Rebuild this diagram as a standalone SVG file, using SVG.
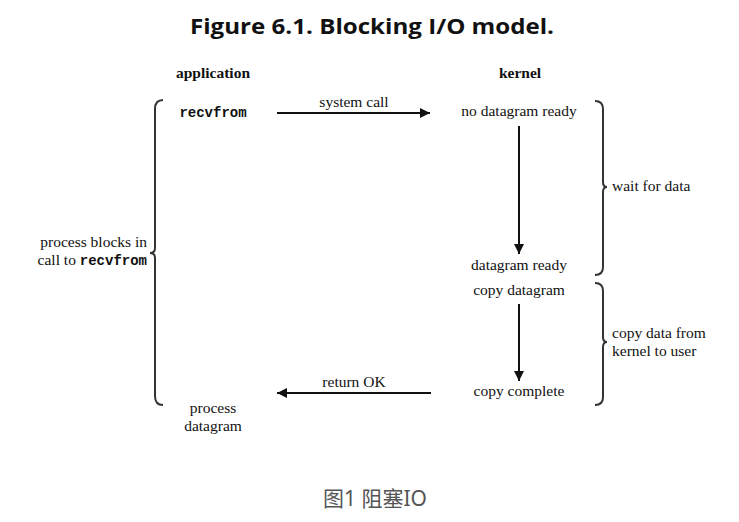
<svg xmlns="http://www.w3.org/2000/svg" width="739" height="522" viewBox="0 0 739 522">
<style>
.t{font-family:"Liberation Serif","DejaVu Serif",serif;font-size:15.5px;fill:#111;}
.b{font-weight:bold;}
.m{font-family:"Liberation Mono","DejaVu Sans Mono",monospace;font-size:14px;font-weight:bold;fill:#111;}
.c{text-anchor:middle;}
.e{text-anchor:end;}
.ln{stroke:#111;stroke-width:2;fill:none;}
.br{stroke:#333;stroke-width:2;fill:none;}
</style>
<defs>
<marker id="ah" viewBox="0 0 10 10" refX="10" refY="5" markerWidth="6" markerHeight="5" markerUnits="strokeWidth" orient="auto">
<path d="M0,0 L10,5 L0,10 Z" fill="#111"/>
</marker>
</defs>
<rect width="739" height="522" fill="#fff"/>
<text x="372" y="34" class="c" textLength="364" lengthAdjust="spacingAndGlyphs" style="font-family:'Open Sans','Noto Sans',sans-serif;font-weight:bold;font-size:22px;fill:#111">Figure 6.1. Blocking I/O model.</text>
<g id="hdr-app"><text x="213" y="78" class="t b c">application</text></g>
<g id="hdr-kernel"><text x="520" y="78" class="t b c">kernel</text></g>
<g id="recvfrom"><text x="213" y="117" class="m c">recvfrom</text></g>
<g id="no-datagram"><text x="519" y="116" class="t c">no datagram ready</text></g>
<g id="datagram-ready"><text x="519" y="270" class="t c">datagram ready</text></g>
<g id="copy-datagram"><text x="519" y="295" class="t c">copy datagram</text></g>
<g id="copy-complete"><text x="519" y="396" class="t c">copy complete</text></g>
<g id="process-datagram"><text x="213" y="413" class="t c">process</text><text x="213" y="431" class="t c">datagram</text></g>
<g id="blocks"><text x="147" y="247" class="t e">process blocks in</text><text x="147" y="265" class="t e">call to <tspan class="m">recvfrom</tspan></text>
<path class="br" d="M163,100 Q155,100 155,109 L155,248 Q155,253 150,253 Q155,253 155,258 L155,396 Q155,405 163,405"/></g>
<g id="wait"><path class="br" d="M595,101 Q603,101 603,109 L603,182 Q603,187 607,187 Q603,187 603,192 L603,267 Q603,275 595,275"/>
<text x="612" y="191" class="t">wait for data</text></g>
<g id="copy"><path class="br" d="M595,283 Q603,283 603,291 L603,337 Q603,342 607,342 Q603,342 603,347 L603,397 Q603,405 595,405"/>
<text x="612" y="338" class="t">copy data from</text><text x="612" y="356" class="t">kernel to user</text></g>
<g id="connectors">
<line class="ln" x1="277" y1="113" x2="430" y2="113" marker-end="url(#ah)"/>
<text x="354" y="107" class="t c">system call</text>
<line class="ln" x1="519" y1="126" x2="519" y2="254" marker-end="url(#ah)"/>
<line class="ln" x1="519" y1="304" x2="519" y2="381" marker-end="url(#ah)"/>
<line class="ln" x1="431" y1="393" x2="277" y2="393" marker-end="url(#ah)"/>
<text x="354" y="387" class="t c">return OK</text>
</g>
<text x="375" y="506" class="c" style="font-family:'Noto Sans','Noto Sans CJK SC',sans-serif;font-size:21px;fill:#555">图1 阻塞IO</text>
</svg>
